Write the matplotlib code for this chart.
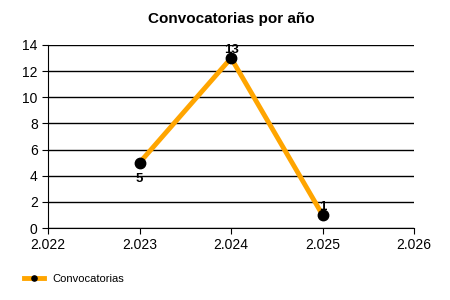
import matplotlib.pyplot as plt
from matplotlib.ticker import FuncFormatter, MultipleLocator

plt.rcParams['font.family'] = ['Liberation Sans', 'DejaVu Sans']

# Datos
anios = [2023, 2024, 2025]
convocatorias = [5, 13, 1]
posicion_etiqueta = ["below", "above", "above"]

fig = plt.figure(figsize=(4.5, 3), dpi=100)
ax = fig.add_axes([0.107, 0.24, 0.813, 0.61])

ax.plot(anios, convocatorias, color='#FFA500', linewidth=3.5, marker='o',
        markersize=7.5, markerfacecolor='black', markeredgecolor='black',
        label="Convocatorias", zorder=3)

for x, y, pos in zip(anios, convocatorias, posicion_etiqueta):
    dy = -12 if pos == "below" else 6
    ax.annotate(str(y), (x, y), xytext=(0, dy), textcoords='offset points',
                ha='center', va='center', fontsize=9.5, fontweight='bold', zorder=4)

ax.set_xlim(2022, 2026)
ax.set_ylim(0, 14)
ax.xaxis.set_major_locator(MultipleLocator(1))
ax.yaxis.set_major_locator(MultipleLocator(2))
ax.xaxis.set_major_formatter(FuncFormatter(lambda v, p: f"{int(round(v)):,}".replace(",", ".")))
ax.yaxis.grid(True, color='black', linewidth=1)
ax.set_axisbelow(True)
ax.spines['top'].set_visible(False)
ax.spines['right'].set_visible(False)
ax.tick_params(labelsize=10, length=4)

ax.set_title("Convocatorias por año", fontsize=11, fontweight='bold', pad=16)

fig.legend(loc='lower left', bbox_to_anchor=(0.03, 0.02), frameon=False,
           fontsize=8, handlelength=1.8, markerscale=0.5)

fig.savefig("out.png", dpi=100)
